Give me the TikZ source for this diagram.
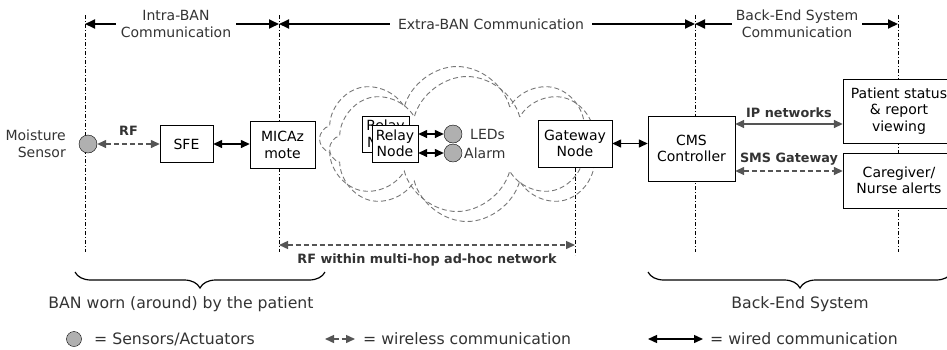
\documentclass[tikz,border=0pt]{standalone}
\usepackage{fontspec}
\setmainfont{DejaVu Sans}
\usetikzlibrary{arrows.meta,shapes.symbols,decorations.pathreplacing}

\definecolor{txtgray}{HTML}{333333}
\definecolor{lngray}{HTML}{555555}
\definecolor{cldgray}{HTML}{777777}
\definecolor{dotgray}{HTML}{B0B0B0}

\tikzset{
	txt/.style={text=txtgray, font=\fontsize{14}{17.5}\selectfont, align=center},
	big/.style={text=txtgray, font=\fontsize{15.7}{18}\selectfont},
	lbl/.style={text=txtgray, font=\fontsize{12.8}{14}\selectfont\bfseries},
	box/.style={draw, fill=white, align=center, inner sep=1pt, font=\fontsize{14}{16.5}\selectfont},
	sens/.style={circle, draw, fill=dotgray, minimum size=18pt, inner sep=0pt},
	wired/.style={{Triangle[length=9pt,width=8pt]}-{Triangle[length=9pt,width=8pt]}, line width=1.4pt},
	wless/.style={{Triangle[length=9pt,width=8pt]}-{Triangle[length=9pt,width=8pt]}, lngray, line width=1.4pt, dash pattern=on 5pt off 3pt},
	ipnet/.style={{Triangle[length=9pt,width=8pt]}-{Triangle[length=9pt,width=8pt]}, lngray, line width=1.6pt},
	span/.style={-{Triangle[length=10pt,width=9pt]}, line width=1.8pt},
	marker/.style={line width=0.8pt, dash pattern=on 4pt off 2pt on 1pt off 2pt},
	puff/.style={cloud, cloud puffs=8, cloud ignores aspect, draw=cldgray, line width=0.9pt, dash pattern=on 5pt off 3pt, minimum width=275pt, minimum height=145pt},
	ubrace/.style={decorate, decoration={brace, mirror, amplitude=16pt}, line width=1.2pt}
}

\begin{document}
\begin{tikzpicture}[x=1pt,y=-1pt]
	\useasboundingbox (0,0) rectangle (947,349);

	% section markers
	\coordinate (m1) at (85,15);
	\coordinate (m2) at (279,15);
	\coordinate (m3) at (575,168);
	\coordinate (m4) at (695,15);
	\coordinate (m5) at (898,15);
	\draw[marker] (m1)--(85,252);
	\draw[marker] (m2)--(279,252);
	\draw[marker] (m3)--(575,255);
	\draw[marker] (m4)--(695,252);
	\draw[marker] (m5)--(898,252);

	% headings
	\node[txt, inner sep=5pt] (intra) at (176,24) {Intra-BAN\\Communication};
	\node[txt, inner sep=8pt] (extra) at (491,24) {Extra-BAN Communication};
	\node[txt, inner sep=4pt] (backend) at (797,24) {Back-End System\\Communication};
	\draw[span] (intra.west)--(intra.west -| m1);
	\draw[span] (intra.east)--(intra.east -| m2);
	\draw[span] (extra.west)--(extra.west -| m2);
	\draw[span] (extra.east)--(extra.east -| m4);
	\draw[span] (backend.west)--(backend.west -| m4);
	\draw[span] (backend.east)--(backend.east -| m5);

	% ad-hoc cloud
	\node[puff] (cloudA) at (457,139) {};
	\node[puff] (cloudB) at (467,149) {};

	% BAN side
	\node[txt, align=right, anchor=east, inner sep=1pt] (moist) at (67,144) {Moisture\\Sensor};
	\node[sens] (sensor) at (88,144) {};
	\node[box, minimum width=53pt, minimum height=37pt] (sfe) at (186.5,144) {SFE};
	\node[box, minimum width=65pt, minimum height=47pt] (micaz) at (282.5,145) {MICAz\\mote};
	\draw[wless] (sensor)--(sfe) node[lbl, midway, above=4pt] {RF};
	\draw[wired] (sfe.east)--(sfe.east -| micaz.west);

	% relay and actuators
	\node[box, minimum width=47pt, minimum height=36pt] (relayB) at (385.5,134) {Relay\\Node};
	\node[box, minimum width=46pt, minimum height=37pt] (relay) at (395,143.5) {Relay\\Node};
	\node[sens] (led) at (453,134) {};
	\node[sens] (alarm) at (453,153) {};
	\node[txt, anchor=west, inner sep=1pt] (ledtxt) at (469,134) {LEDs};
	\node[txt, anchor=west, inner sep=1pt] (alarmtxt) at (463,153) {Alarm};
	\draw[wired] (relay.east |- led)--(led.west);
	\draw[wired] (relay.east |- alarm)--(alarm.west);

	\node[box, minimum width=74pt, minimum height=47pt] (gw) at (575,143.5) {Gateway\\Node};

	% back-end side
	\node[box, minimum width=87pt, minimum height=65pt] (cms) at (691.5,148.5) {CMS\\Controller};
	\node[box, minimum width=112pt, minimum height=64pt] (patient) at (899,111) {Patient status\\\& report\\viewing};
	\node[box, minimum width=112pt, minimum height=55pt] (care) at (899,180.5) {Caregiver/\\Nurse alerts};
	\draw[wired] (gw.east)--(gw.east -| cms.west);
	\draw[ipnet] (cms.east |- 0,124)--(patient.west |- 0,124) node[lbl, midway, above=2pt] {IP networks};
	\draw[wless] (cms.east |- 0,171)--(care.west |- 0,171) node[lbl, midway, above=2pt] {SMS Gateway};

	% multi-hop link
	\draw[wless] (m2 |- 0,245)--(m3 |- 0,245) node[lbl, midway, below=5pt] {RF within multi-hop ad-hoc network};

	% braces
	\draw[ubrace] (75,272)--(325,272);
	\draw[ubrace] (648,272)--(952,272);
	\node[big] (bantxt) at (181,304) {BAN worn (around) by the patient};
	\node[big] (betxt) at (800,304) {Back-End System};

	% legend
	\node[sens, minimum size=15pt] (legdot) at (74,339) {};
	\node[big, anchor=west, inner sep=1pt] (legdottxt) at (93,339) {= Sensors/Actuators};
	\coordinate (lw1) at (325,339);
	\coordinate (lw2) at (355,339);
	\draw[wless] (lw1)--(lw2);
	\node[big, anchor=west, inner sep=1pt] (legwltxt) at (362,339) {= wireless communication};
	\coordinate (lc1) at (648,339);
	\coordinate (lc2) at (703,339);
	\draw[wired] (lc1)--(lc2);
	\node[big, anchor=west, inner sep=1pt] (legwdtxt) at (709,339) {= wired communication};
\end{tikzpicture}
\end{document}
